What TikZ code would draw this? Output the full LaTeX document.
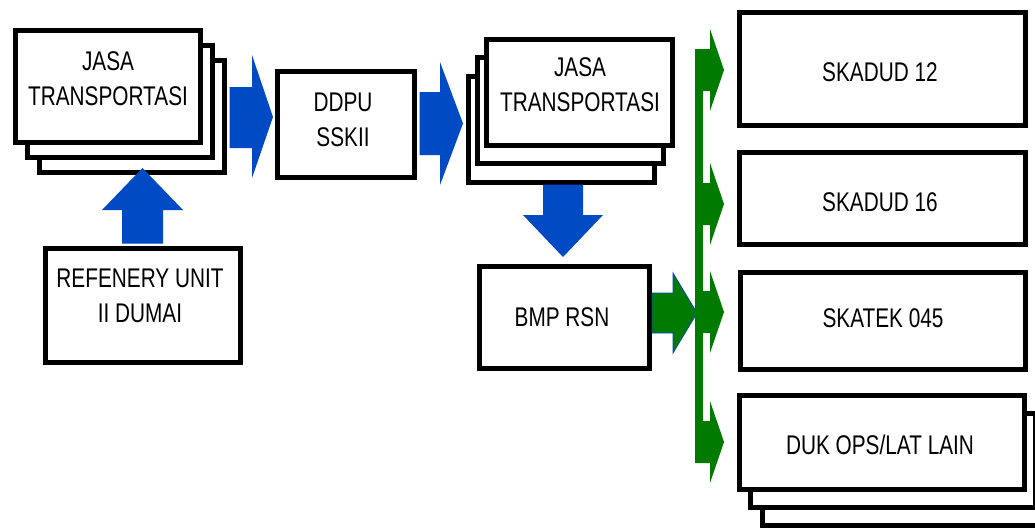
\documentclass[tikz,border=0pt]{standalone}
\usepackage{fontspec}
\setmainfont{Liberation Sans}[FakeStretch=0.77]
\definecolor{arrblue}{RGB}{0,74,196}
\definecolor{arrgreen}{RGB}{0,122,0}
\begin{document}
\begin{tikzpicture}[x=1pt,y=-1pt,
  box/.style={draw=black,line width=5pt,fill=white,rectangle,inner sep=0pt,outer sep=0pt},
  txt/.style={align=center,font=\fontsize{27}{35}\selectfont,inner sep=0pt},
  barrow/.style={fill=arrblue},
  garrow/.style={fill=arrgreen}]
\useasboundingbox (0,0) rectangle (1035,531);

% left stack
\node[box,minimum width=185pt,minimum height=112pt] (j1c) at (131.5,116.5) {};
\node[box,minimum width=185pt,minimum height=112pt] (j1b) at (120,101.5) {};
\node[box,minimum width=185pt,minimum height=112pt] (j1a) at (108,86.5) {};
\node[txt] (t1) at (108,78.5) {JASA\\TRANSPORTASI};

% DDPU
\node[box,minimum width=137pt,minimum height=106pt] (ddpu) at (346,124.5) {};
\node[txt] (t2) at (343,119.5) {DDPU\\SSKII};

% second stack
\node[box,minimum width=186pt,minimum height=106pt] (j2c) at (561,129) {};
\node[box,minimum width=186pt,minimum height=106pt] (j2b) at (570,110.5) {};
\node[box,minimum width=186pt,minimum height=106pt] (j2a) at (579,92) {};
\node[txt] (t3) at (580,85) {JASA\\TRANSPORTASI};

% BMP RSN
\node[box,minimum width=170pt,minimum height=102pt] (bmp) at (564.5,317.5) {};
\node[txt] (t4) at (562,317) {BMP RSN};

% Refinery
\node[box,minimum width=195pt,minimum height=114pt] (ref) at (143,305.5) {};
\node[txt] (t5) at (140,295.5) {REFENERY UNIT\\II DUMAI};

% right boxes
\node[box,minimum width=286pt,minimum height=113pt] (s12) at (882.5,69) {};
\node[txt] (t6) at (880,72) {SKADUD 12};
\node[box,minimum width=286pt,minimum height=92pt] (s16) at (882.5,198.5) {};
\node[txt] (t7) at (880,202) {SKADUD 16};
\node[box,minimum width=285pt,minimum height=97pt] (s045) at (883,321) {};
\node[txt] (t8) at (883,318) {SKATEK 045};
\node[box,minimum width=285pt,minimum height=94pt] (dukc) at (905,478.5) {};
\node[box,minimum width=285pt,minimum height=94pt] (dukb) at (893,460.5) {};
\node[box,minimum width=285pt,minimum height=94pt] (duka) at (882,442.5) {};
\node[txt] (t9) at (880,445) {DUK OPS/LAT LAIN};

% blue block arrows
\fill[barrow] (229.5,87) -- (252,87) -- (252,55) -- (273,117) -- (252,178) -- (252,148) -- (229.5,148) -- cycle;
\fill[barrow] (419.5,92) -- (440,92) -- (440,62) -- (463,123.5) -- (440,185) -- (440,155) -- (419.5,155) -- cycle;
\fill[barrow] (122,243.5) -- (122,210) -- (102,210) -- (142.5,168) -- (183,210) -- (163,210) -- (163,243.5) -- cycle;
\fill[barrow] (543,184.5) -- (543,215) -- (523,215) -- (563,257) -- (603,215) -- (583,215) -- (583,184.5) -- cycle;

% green block arrows
\filldraw[garrow,draw=arrblue,line width=0.8pt] (652,293) -- (673,293) -- (673,273) -- (697,313) -- (673,353) -- (673,333) -- (652,333) -- cycle;
\fill[garrow] (695,50) rectangle (703,462);
\foreach \c in {70,204,312,442}{
  \fill[garrow] (695,\c-21) -- (710,\c-21) -- (710,\c-41) -- (724,\c) -- (710,\c+41) -- (710,\c+21) -- (695,\c+21) -- cycle;
}
\end{tikzpicture}
\end{document}
